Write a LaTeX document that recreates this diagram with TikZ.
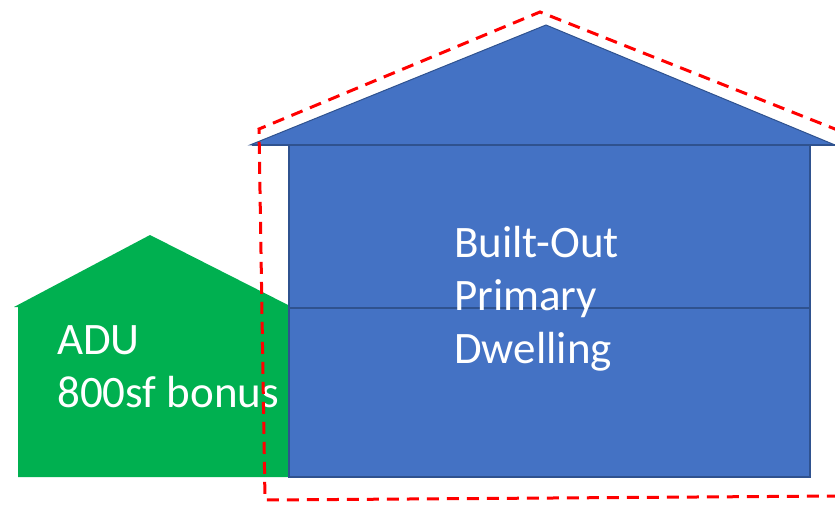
\documentclass[tikz,border=0pt]{standalone}
\usepackage{fontspec}
\setmainfont{Carlito}
\definecolor{housefill}{HTML}{4472C4}
\definecolor{houseline}{HTML}{2F528F}
\definecolor{adufill}{HTML}{00B050}
\begin{document}
\begin{tikzpicture}[x=1pt,y=-1pt,
  label/.style={text=white,font=\fontsize{45}{53}\selectfont,align=left,anchor=north west,inner sep=0pt},
  envelope/.style={draw=red,line width=3pt,dash pattern=on 12pt off 8pt}]
\useasboundingbox (0,0) rectangle (835,505);
% accessory dwelling unit
\fill[adufill] (18,477) -- (18,307) -- (14,307) -- (150,235) -- (292,307) -- (292,477) -- cycle;
% primary dwelling body
\filldraw[fill=housefill,draw=houseline,line width=2.5pt] (289,145) rectangle (810,477);
\draw[houseline,line width=2.5pt] (289,308) -- (810,308);
% roof
\filldraw[fill=housefill,draw=houseline,line width=1pt] (250,145) -- (546,25) -- (835,145) -- cycle;
\draw[houseline,line width=2.5pt] (252,145) -- (835,145);
% labels
\node[label] (adu) at (57,325) {ADU\\800sf bonus};
\node[label] (main) at (454,226) {Built-Out\\Primary\\Dwelling};
% buildable envelope
\draw[envelope] (840,131) -- (540,12) -- (259,129) -- (265,500) -- (840,496);
\end{tikzpicture}
\end{document}
